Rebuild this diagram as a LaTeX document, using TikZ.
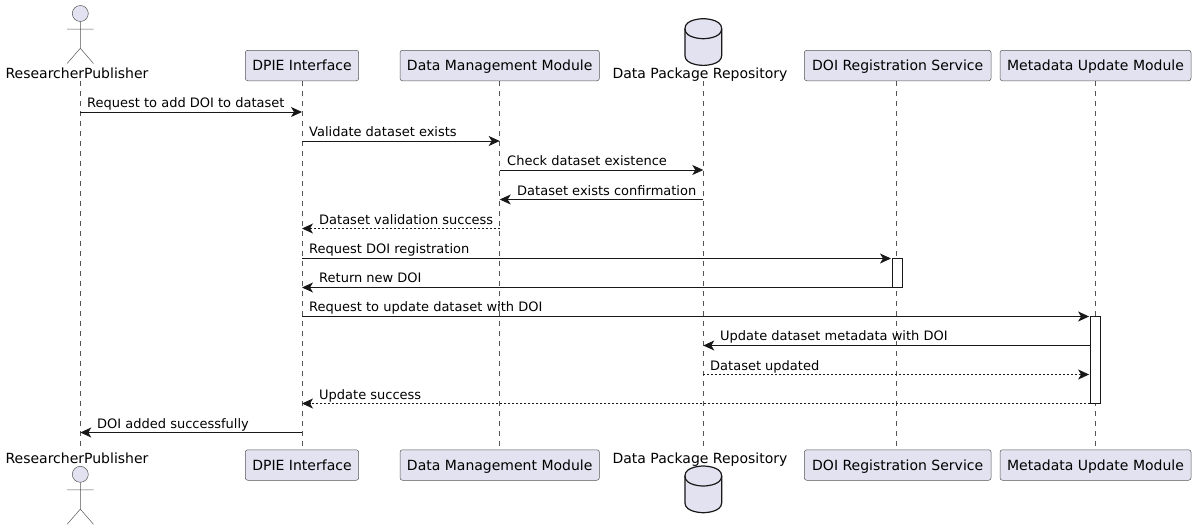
\documentclass[tikz,border=0pt]{standalone}
\usepackage{fontspec}
\setmainfont{DejaVu Sans}
\usepackage{tikz}
\usetikzlibrary{arrows.meta}
\definecolor{partfill}{HTML}{E2E2F0}
\definecolor{partline}{HTML}{181818}
\definecolor{thinline}{HTML}{555555}

\begin{document}
\begin{tikzpicture}[
  x=1pt,y=-1pt,
  participant/.style={draw=thinline,line width=.5pt,rounded corners=2.5pt,fill=partfill,font=\fontsize{14pt}{16pt}\selectfont,inner sep=0pt,minimum height=30.5pt,text height=12pt,text depth=2pt},
  caption/.style={font=\fontsize{14pt}{16pt}\selectfont,inner sep=0pt,text height=10.5pt,text depth=3.5pt},
  lifeline/.style={draw=thinline,line width=.5pt,dash pattern=on 5pt off 5pt},
  activation/.style={draw=partline,line width=.8pt,fill=white,inner sep=0pt,minimum width=10pt},
  to/.style={-{Stealth[length=11pt,width=10pt,inset=3pt]},draw=partline,line width=.9pt},
  back/.style={to,dash pattern=on 2pt off 2pt},
  msg/.style={anchor=base west,inner sep=0pt,text=black,font=\fontsize{13pt}{15pt}\selectfont},
  actorfig/.pic={
    \draw[draw=thinline,line width=.5pt,fill=partfill] (0,0) circle (8);
    \draw[draw=thinline,line width=.5pt] (0,8) -- (0,34.8) (-13.2,15.6) -- (13.2,15.6) (-13.2,50) -- (0,34.8) -- (13.2,50);
  },
  dbfig/.pic={
    \draw[draw=partline,line width=1.2pt,fill=partfill] (-18.4,10) .. controls (-18.4,0) and (0,0) .. (0,0) .. controls (0,0) and (18.4,0) .. (18.4,10) -- (18.4,36.7) .. controls (18.4,46.7) and (0,46.7) .. (0,46.7) .. controls (0,46.7) and (-18.4,46.7) .. (-18.4,36.7) -- cycle;
    \draw[draw=partline,line width=1.2pt] (-18.4,10) .. controls (-18.4,20) and (0,20) .. (0,20) .. controls (0,20) and (18.4,20) .. (18.4,10);
  }]

  % Position the participants at the top and the bottom
  \node[participant,minimum width=113.4pt] (dpie_top) at (302,65.5) {DPIE Interface};
  \node[participant,minimum width=199.4pt] (module_top) at (499.7,65.5) {Data Management Module};
  \node[participant,minimum width=186.8pt] (doi_top) at (897.7,65.5) {DOI Registration Service};
  \node[participant,minimum width=191pt] (update_top) at (1095.5,65.5) {Metadata Update Module};
  \node[participant,minimum width=113.4pt] (dpie_bot) at (302,465) {DPIE Interface};
  \node[participant,minimum width=199.4pt] (module_bot) at (499.7,465) {Data Management Module};
  \node[participant,minimum width=186.8pt] (doi_bot) at (897.7,465) {DOI Registration Service};
  \node[participant,minimum width=191pt] (update_bot) at (1095.5,465) {Metadata Update Module};

  \node[caption] (researcher_label) at (77,75) {ResearcherPublisher};
  \node[caption] (repository_label) at (700,75) {Data Package Repository};
  \node[caption] (researcher_label2) at (77,460) {ResearcherPublisher};
  \node[caption] (repository_label2) at (700,460) {Data Package Repository};

  \pic at (80.3,13.5) {actorfig};
  \pic at (80.3,474.3) {actorfig};
  \pic at (703.3,18.7) {dbfig};
  \pic at (703.3,466) {dbfig};

  % Lifeline ends
  \coordinate (researcher_start) at (80.3,81);
  \coordinate (researcher_end) at (80.3,447);
  \coordinate (repository_start) at (703.3,81);
  \coordinate (repository_end) at (703.3,447);
  \coordinate (doi_start) at (896.3,81);
  \coordinate (doi_end) at (896.3,449);

  % Draw the lifelines
  \draw[lifeline] (researcher_start) -- (researcher_end);
  \draw[lifeline] (repository_start) -- (repository_end);
  \draw[lifeline] (doi_start) -- (doi_end);
  \foreach \part in {dpie,module,update}
    \draw[lifeline] (\part_top) -- (\part_bot);

  % Rows of the messages and the activation bars
  \foreach \row/\ypos in {r1/112,r2/141,r3/170,r4/199.5,r5/228.5,r6/258.5,r7/287.5,r8/316.5,r9/345.5,r10/374.5,r11/403.5,r12/432.5}
    \coordinate (\row) at (0,\ypos);
  \node[activation,minimum height=29pt] (doi_bar) at (897.4,273) {};
  \node[activation,minimum height=87pt] (update_bar) at (1095.5,360) {};

  % Draw the arrows between the lifelines and label them.
  \draw[to] (researcher_start |- r1) -- (dpie_top |- r1);
  \draw[to] (dpie_top |- r2) -- (module_top |- r2);
  \draw[to] (module_top |- r3) -- (repository_start |- r3);
  \draw[to] (repository_start |- r4) -- (module_top |- r4);
  \draw[back] (module_top |- r5) -- (dpie_top |- r5);
  \draw[to,shorten >=1pt] (dpie_top |- r6) -- (doi_bar.west |- r6);
  \draw[to] (doi_bar.west |- r7) -- (dpie_top |- r7);
  \draw[to,shorten >=1pt] (dpie_top |- r8) -- (update_bar.west |- r8);
  \draw[to] (update_bar.west |- r9) -- (repository_start |- r9);
  \draw[back,shorten >=1pt] (repository_start |- r10) -- (update_bar.west |- r10);
  \draw[back] (update_bar.west |- r11) -- (dpie_top |- r11);
  \draw[to] (dpie_top |- r12) -- (researcher_start |- r12);

  \node[msg] (msg_add) at (87,107) {Request to add DOI to dataset};
  \node[msg] (msg_validate) at (309,136) {Validate dataset exists};
  \node[msg] (msg_check) at (507,165) {Check dataset existence};
  \node[msg] (msg_exists) at (517,195) {Dataset exists confirmation};
  \node[msg] (msg_success) at (319,224) {Dataset validation success};
  \node[msg] (msg_register) at (309,253) {Request DOI registration};
  \node[msg] (msg_return) at (319,282) {Return new DOI};
  \node[msg] (msg_update) at (309,311) {Request to update dataset with DOI};
  \node[msg] (msg_metadata) at (720,340) {Update dataset metadata with DOI};
  \node[msg] (msg_updated) at (710,370) {Dataset updated};
  \node[msg] (msg_done) at (319,399) {Update success};
  \node[msg] (msg_added) at (97,428) {DOI added successfully};

  \useasboundingbox (0,0) rectangle (1196,530);
\end{tikzpicture}
\end{document}
